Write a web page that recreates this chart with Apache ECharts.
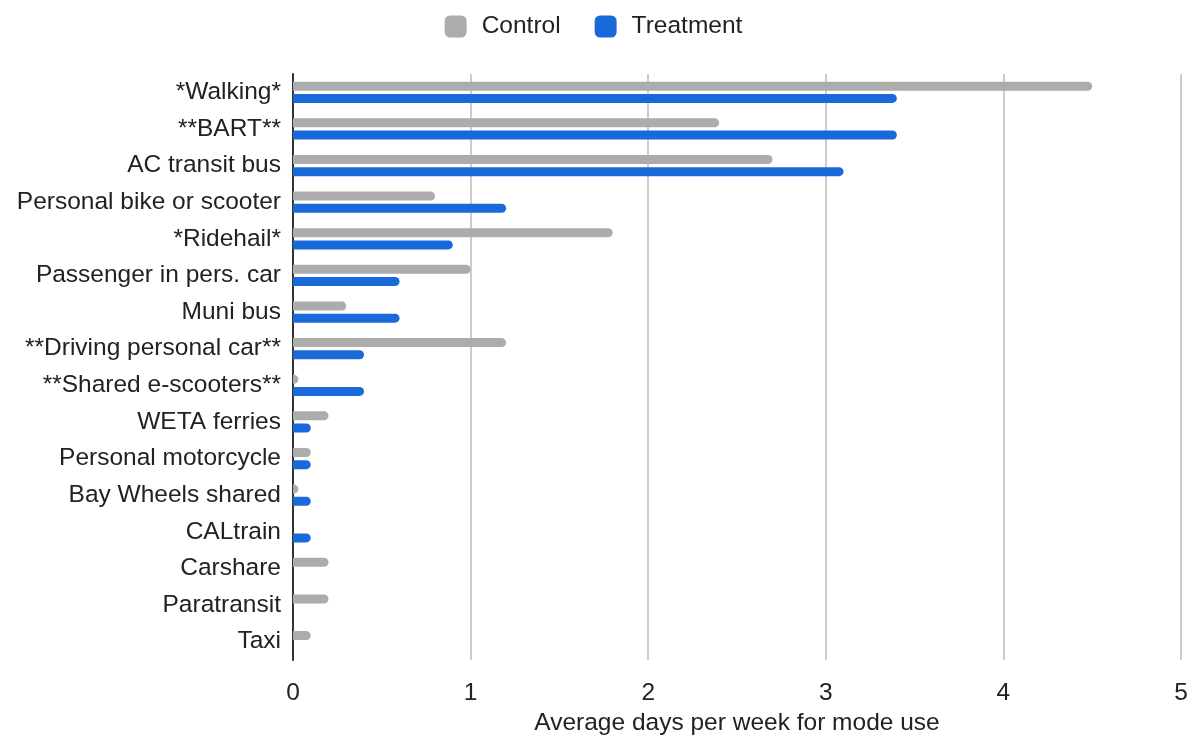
<!DOCTYPE html>
<html>
<head>
<meta charset="utf-8">
<script src="https://cdn.jsdelivr.net/npm/echarts@6/dist/echarts.min.js"></script>
<style>
  html, body { margin: 0; padding: 0; background: #fff; }
  #chart { width: 1187px; height: 736px; }
</style>
</head>
<body>
<div id="chart"></div>
<script>
var categories = ['*Walking*', '**BART**', 'AC transit bus', 'Personal bike or scooter', '*Ridehail*',
  'Passenger in pers. car', 'Muni bus', '**Driving personal car**', '**Shared e-scooters**',
  'WETA ferries', 'Personal motorcycle', 'Bay Wheels shared', 'CALtrain', 'Carshare', 'Paratransit', 'Taxi'];
var controlValues = [4.5, 2.4, 2.7, 0.8, 1.8, 1.0, 0.3, 1.2, 0.03, 0.2, 0.1, 0.03, 0, 0.2, 0.2, 0.1];
var treatmentValues = [3.4, 3.4, 3.1, 1.2, 0.9, 0.6, 0.6, 0.4, 0.4, 0.1, 0.1, 0.1, 0.1, 0, 0, 0];
var xTicks = [0, 1, 2, 3, 4, 5];

var chart = echarts.init(document.getElementById('chart'));
var font = 'Liberation Sans, Arial, sans-serif';
var option = {
  animation: false,
  textStyle: { fontFamily: font },
  legend: {
    top: 9,
    left: 'center',
    itemWidth: 22,
    itemHeight: 22,
    itemGap: 34,
    icon: 'roundRect',
    textStyle: { fontSize: 24.5, color: '#222', fontFamily: font, padding: [0, 0, 0, 10] },
    data: ['Control', 'Treatment']
  },
  grid: { left: 293, right: 6, top: 74, bottom: 76, outerBoundsMode: 'none' },
  xAxis: {
    type: 'value',
    min: 0,
    max: 5,
    interval: 1,
    name: 'Average days per week for mode use',
    nameLocation: 'middle',
    nameGap: 50,
    nameTextStyle: { fontSize: 24.5, color: '#222', fontFamily: font },
    axisLabel: {
      fontSize: 24.5, color: '#222', margin: 21, fontFamily: font,
      formatter: function (v) { return xTicks.indexOf(v) >= 0 ? String(v) : ''; }
    },
    axisLine: { show: false },
    axisTick: { show: false },
    splitLine: { lineStyle: { color: '#cccccc', width: 2 } }
  },
  yAxis: {
    type: 'category',
    data: categories,
    inverse: true,
    axisLine: { show: true, lineStyle: { color: '#333', width: 2 } },
    axisTick: { show: false },
    axisLabel: { fontSize: 24.5, color: '#222', margin: 12, fontFamily: font }
  },
  series: [
    {
      name: 'Control',
      type: 'bar',
      data: controlValues,
      barWidth: 9,
      barGap: '35%',
      itemStyle: { color: '#acacac', borderRadius: [0, 4.5, 4.5, 0] }
    },
    {
      name: 'Treatment',
      type: 'bar',
      data: treatmentValues,
      barWidth: 9,
      barGap: '35%',
      itemStyle: { color: '#1a69db', borderRadius: [0, 4.5, 4.5, 0] }
    }
  ]
};
chart.setOption(option);
</script>
</body>
</html>
